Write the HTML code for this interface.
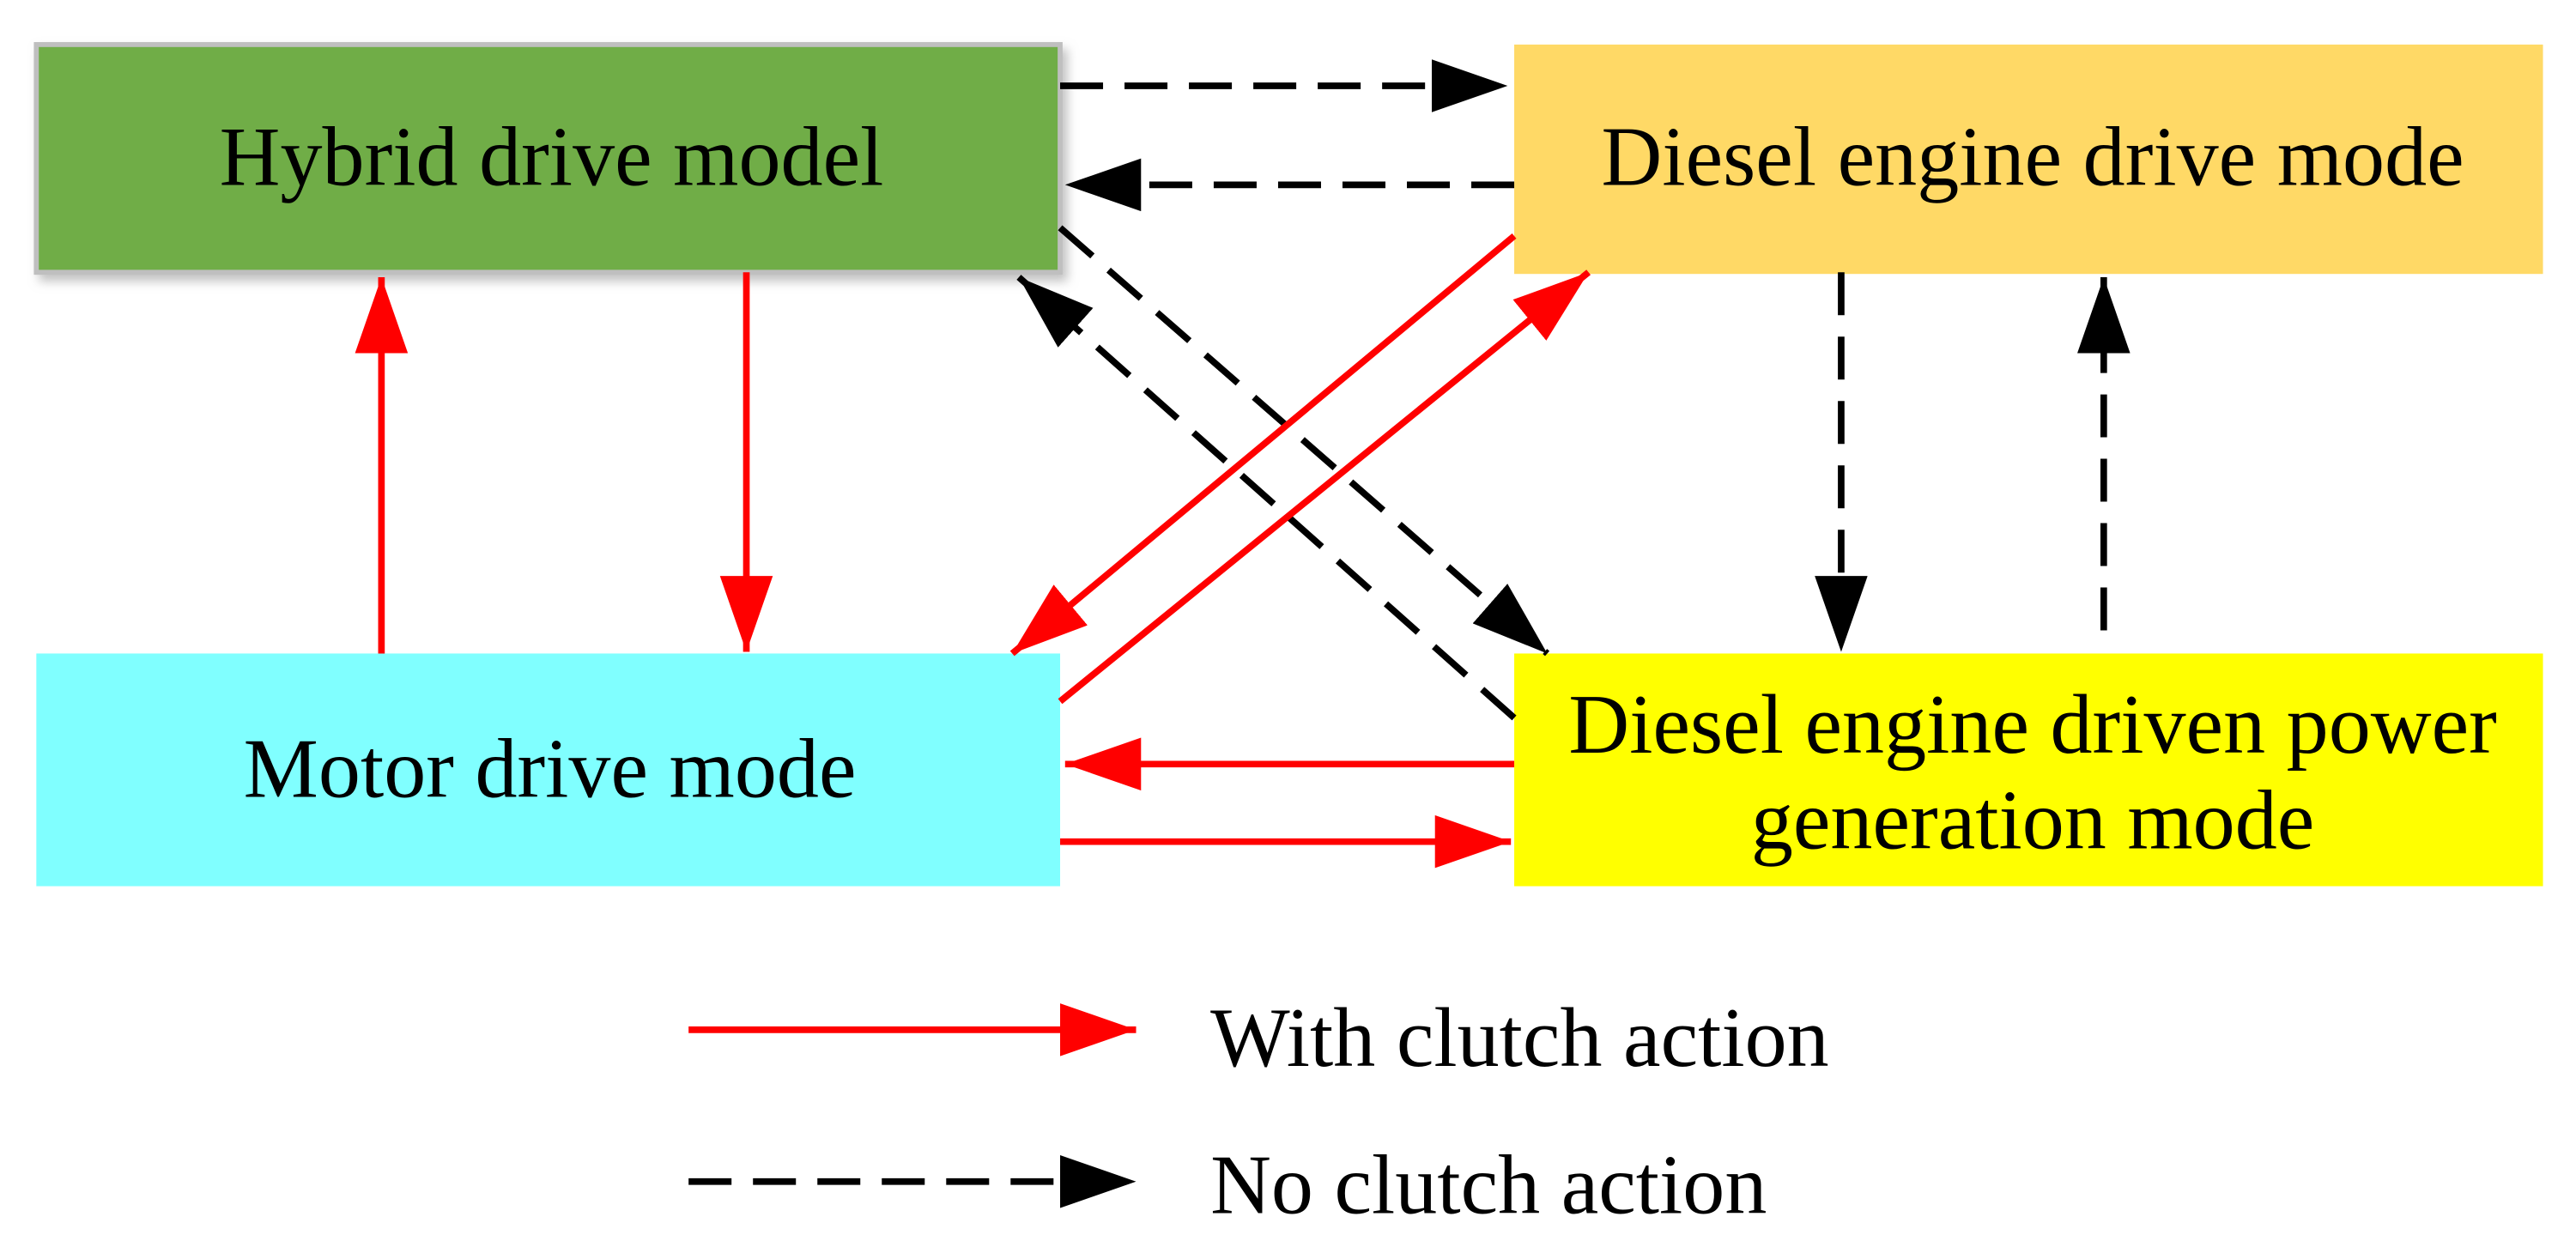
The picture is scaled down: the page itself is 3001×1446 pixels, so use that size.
<!DOCTYPE html>
<html><head><meta charset="utf-8"><style>html,body{margin:0;padding:0;background:#fff}svg{display:block}</style></head>
<body>
<svg width="3001" height="1446" viewBox="0 0 1560 752" preserveAspectRatio="none" xmlns="http://www.w3.org/2000/svg">
<defs>
<marker id="r" markerUnits="userSpaceOnUse" markerWidth="46" markerHeight="32" refX="46" refY="16" orient="auto"><path d="M0,0 L46,16 L0,32 Z" fill="#FF0000"/></marker>
<marker id="k" markerUnits="userSpaceOnUse" markerWidth="46" markerHeight="32" refX="46" refY="16" orient="auto"><path d="M0,0 L46,16 L0,32 Z" fill="#000"/></marker>
<filter id="sh"><feDropShadow dx="3" dy="4" stdDeviation="3" flood-color="#999" flood-opacity="0.6"/></filter>
</defs>
<g font-family="Liberation Serif, serif" font-size="51" text-anchor="middle" fill="#000">
<rect x="22" y="27" width="620" height="138" fill="#70AD47" stroke="#BFBFBF" stroke-width="3" filter="url(#sh)"/>
<text x="334" y="112">Hybrid drive model</text>
<rect x="917" y="27" width="623" height="139" fill="#FFD966"/>
<text x="1231" y="112">Diesel engine drive mode</text>
<rect x="22" y="396" width="620" height="141" fill="#80FFFF"/>
<text x="333" y="483">Motor drive mode</text>
<rect x="917" y="396" width="623" height="141" fill="#FFFF00"/>
<text x="1231" y="456">Diesel engine driven power</text>
<text x="1231" y="514">generation mode</text>
</g>
<g stroke-width="4" fill="none">
<g stroke="#000" stroke-dasharray="26,13">
<line x1="642" y1="52" x2="913" y2="52" marker-end="url(#k)"/>
<line x1="917" y1="112" x2="645" y2="112" marker-end="url(#k)"/>
<line x1="642" y1="138" x2="937" y2="396" marker-end="url(#k)"/>
<line x1="917" y1="435" x2="617" y2="168" marker-end="url(#k)"/>
<line x1="1115" y1="165" x2="1115" y2="395" marker-end="url(#k)"/>
<line x1="1274" y1="382" x2="1274" y2="168" marker-end="url(#k)"/>
<line x1="417" y1="716" x2="688" y2="716" marker-end="url(#k)"/>
</g>
<g stroke="#FF0000">
<line x1="917" y1="143" x2="613" y2="396" marker-end="url(#r)"/>
<line x1="642" y1="425" x2="962" y2="165" marker-end="url(#r)"/>
<line x1="231" y1="396" x2="231" y2="168" marker-end="url(#r)"/>
<line x1="452" y1="165" x2="452" y2="395" marker-end="url(#r)"/>
<line x1="917" y1="463" x2="645" y2="463" marker-end="url(#r)"/>
<line x1="642" y1="510" x2="915" y2="510" marker-end="url(#r)"/>
<line x1="417" y1="624" x2="688" y2="624" marker-end="url(#r)"/>
</g>
</g>
<g font-family="Liberation Serif, serif" font-size="51" fill="#000">
<text x="733" y="646">With clutch action</text>
<text x="733" y="735">No clutch action</text>
</g>
</svg>
</body></html>
